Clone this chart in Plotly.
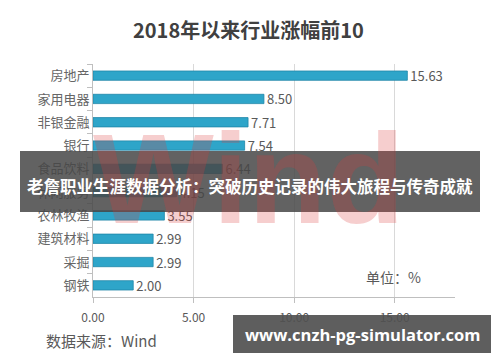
import plotly.graph_objects as go

categories = ["房地产", "家用电器", "非银金融", "银行", "食品饮料", "休闲服务", "农林牧渔", "建筑材料", "采掘", "钢铁"]
values = [15.63, 8.50, 7.71, 7.54, 6.44, 4.15, 3.55, 2.99, 2.99, 2.00]
x_ticks = [0, 5, 10, 15]
x_tick_labels = ["0.00", "5.00", "10.00", "15.00"]

title_text = "2018年以来行业涨幅前10"
banner_text = "老詹职业生涯数据分析：突破历史记录的伟大旅程与传奇成就"
site_text = "www.cnzh-pg-simulator.com"
unit_text = "单位：%"
source_text = "数据来源：Wind"

FONT = "Noto Sans CJK SC, Noto Sans, sans-serif"
GRAY = "#595959"

L, R, T, B = 93, 45, 64, 65
W, H = 500, 362

fig = go.Figure()
fig.add_trace(go.Bar(
    y=categories, x=values, orientation="h",
    marker=dict(color="#2ea5c9", line=dict(color="#1f87a8", width=0.8)),
    width=0.4,
    text=[f"{v:.2f}" for v in values], textposition="outside",
    constraintext="none",
    textfont=dict(size=13, color=GRAY, family=FONT),
    cliponaxis=False, showlegend=False,
))

fig.update_layout(
    width=W, height=H,
    margin=dict(l=L, r=R, t=T, b=B),
    paper_bgcolor="white", plot_bgcolor="white",
    font=dict(family=FONT, color=GRAY),
    uniformtext=dict(minsize=13, mode="show"),
    xaxis=dict(range=[0, 18], tickvals=x_ticks, ticktext=x_tick_labels,
               showgrid=True, gridcolor="#d9d9d9", gridwidth=1,
               showline=True, linecolor="#bfbfbf", ticks="outside", ticklen=5,
               ticklabelstandoff=5,
               tickcolor="#bfbfbf", tickfont=dict(size=12, color=GRAY), zeroline=False),
    yaxis=dict(categoryorder="array", categoryarray=categories, autorange="reversed",
               showline=True, linecolor="#bfbfbf", ticks="outside", ticklen=5,
               tickcolor="#bfbfbf", tickson="boundaries", showgrid=False,
               tickfont=dict(size=13, color="#666666")),
    bargap=0.6,
)


def px_x(x):
    return (x - L) / (W - L - R)


def px_y(y):
    return (H - B - y) / (H - T - B)


def note(text, x, y, size, color, family=FONT):
    fig.add_annotation(text=text, x=px_x(x), y=px_y(y), xref="paper", yref="paper",
                       xanchor="center", yanchor="middle", showarrow=False,
                       font=dict(size=size, color=color, family=family))


note("<b>Wind</b>", 249, 178, 128, "rgba(220,60,60,0.25)", "Liberation Sans")
note("<b>" + title_text + "</b>", 248, 30, 20, "#404040")
fig.add_shape(type="rect", xref="paper", yref="paper", layer="above",
              x0=px_x(20), x1=px_x(480), y0=px_y(212), y1=px_y(151),
              fillcolor="rgba(70,70,70,0.85)", line=dict(width=0))
note("<b>" + banner_text + "</b>", 250, 186, 16.5, "white")
note(unit_text, 393, 277, 14, GRAY)
note(source_text, 101, 340, 15, GRAY)
fig.add_shape(type="rect", xref="paper", yref="paper", layer="above",
              x0=px_x(233), x1=px_x(491), y0=px_y(353), y1=px_y(315),
              fillcolor="rgba(80,80,80,0.92)", line=dict(width=0))
note("<b>" + site_text + "</b>", 362, 334, 16.5, "white", "Open Sans, DejaVu Sans")

fig.write_html("out.html")
